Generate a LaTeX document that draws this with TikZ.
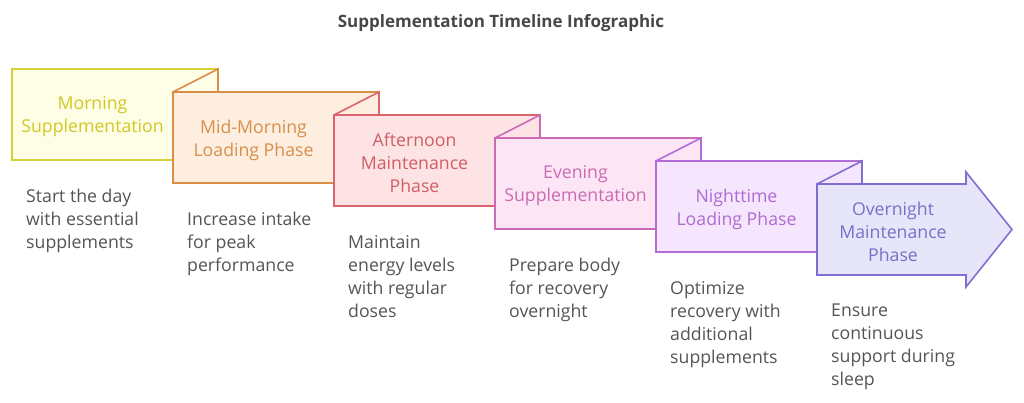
\documentclass[tikz,border=0pt]{standalone}
\usepackage{fontspec}
\setmainfont{Open Sans}
\definecolor{yelline}{HTML}{D8CF34}
\definecolor{yelfill}{HTML}{FEFDE5}
\definecolor{yeltext}{HTML}{D2C825}
\definecolor{orgline}{HTML}{D98E48}
\definecolor{orgfill}{HTML}{FDEEDF}
\definecolor{orgtext}{HTML}{D88F4C}
\definecolor{redline}{HTML}{D9656C}
\definecolor{redfill}{HTML}{FDE3E3}
\definecolor{redtext}{HTML}{D05E66}
\definecolor{pinkline}{HTML}{CB6AB7}
\definecolor{pinkfill}{HTML}{FCE5F5}
\definecolor{pinktext}{HTML}{CA6BB2}
\definecolor{lilline}{HTML}{B16CD8}
\definecolor{lilfill}{HTML}{F5E5FD}
\definecolor{liltext}{HTML}{AF6CD0}
\definecolor{violine}{HTML}{7E6FD0}
\definecolor{viofill}{HTML}{E7E5FA}
\definecolor{viotext}{HTML}{7A6FC8}
\definecolor{descgray}{HTML}{555555}
\definecolor{titlegray}{HTML}{474747}
\begin{document}
\begin{tikzpicture}[x=1pt,y=-1pt,
	box/.style={line width=1.6pt, line join=miter},
	lbl/.style={font=\fontsize{17.7}{23}\selectfont, align=center, inner sep=0pt},
	desc/.style={font=\fontsize{17.7}{23}\selectfont, align=left, anchor=north west, inner sep=0pt, text=descgray}]
	\useasboundingbox[fill=white] (0,0) rectangle (1024,402);
	\node (title)[anchor=base, font=\fontsize{17}{20}\selectfont\bfseries, text=titlegray] at (501,27.5) {Supplementation Timeline Infographic};

	% morning
	\draw[box, draw=yelline, fill=yelfill] (12,69) rectangle ++(206,91);
	\node (morning)[lbl, text=yeltext] at (92.5,117) {Morning\\Supplementation};
	\node (morningdesc)[desc] at (26,189) {Start the day\\with essential\\supplements};

	% mid-morning
	\draw[box, draw=orgline, fill=orgfill] (173,92) rectangle ++(206,91);
	\draw[box, draw=orgline] (173,92) -- (218,69) -- (218,92);
	\node (midmorning)[lbl, text=orgtext] at (253.5,140) {Mid-Morning\\Loading Phase};
	\node (midmorningdesc)[desc] at (187,212) {Increase intake\\for peak\\performance};

	% afternoon
	\draw[box, draw=redline, fill=redfill] (334,115) rectangle ++(206,91);
	\draw[box, draw=redline] (334,115) -- (379,92) -- (379,115);
	\node (afternoon)[lbl, text=redtext] at (414.5,162.5) {Afternoon\\Maintenance\\Phase};
	\node (afternoondesc)[desc] at (348,235) {Maintain\\energy levels\\with regular\\doses};

	% evening
	\draw[box, draw=pinkline, fill=pinkfill] (495,138) rectangle ++(206,91);
	\draw[box, draw=pinkline] (495,138) -- (540,115) -- (540,138);
	\node (evening)[lbl, text=pinktext] at (575.5,186) {Evening\\Supplementation};
	\node (eveningdesc)[desc] at (509,258) {Prepare body\\for recovery\\overnight};

	% nighttime
	\draw[box, draw=lilline, fill=lilfill] (656,161) rectangle ++(206,91);
	\draw[box, draw=lilline] (656,161) -- (701,138) -- (701,161);
	\node (nighttime)[lbl, text=liltext] at (736.5,209) {Nighttime\\Loading Phase};
	\node (nighttimedesc)[desc] at (670,281) {Optimize\\recovery with\\additional\\supplements};

	% overnight
	\draw[box, draw=violine, fill=viofill] (817,184) -- (966,184) -- (966,172) -- (1012,229.5)
		-- (966,287) -- (966,275) -- (817,275) -- cycle;
	\draw[box, draw=violine] (817,184) -- (862,161) -- (862,184);
	\node (overnight)[lbl, text=viotext] at (893,231.5) {Overnight\\Maintenance\\Phase};
	\node (overnightdesc)[desc] at (831,304) {Ensure\\continuous\\support during\\sleep};
\end{tikzpicture}
\end{document}
